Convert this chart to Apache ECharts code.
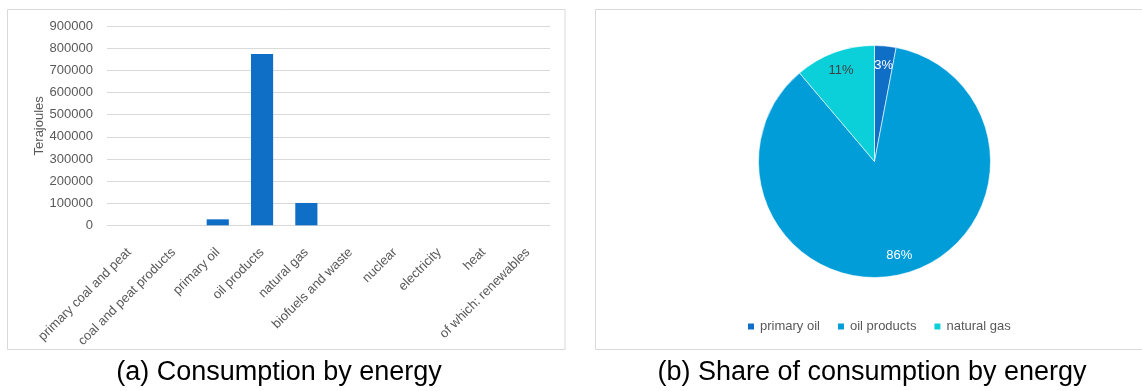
<!DOCTYPE html>
<html>
<head>
<meta charset="utf-8">
<script src="https://cdn.jsdelivr.net/npm/echarts@6/dist/echarts.min.js"></script>
<style>
  html, body { margin: 0; padding: 0; background: #ffffff; }
  #chart { width: 1142px; height: 391px; }
</style>
</head>
<body>
<div id="chart"></div>
<script>
// Final consumption by energy source, terajoules
const categories = [
  'primary coal and peat', 'coal and peat products', 'primary oil', 'oil products',
  'natural gas', 'biofuels and waste', 'nuclear', 'electricity', 'heat', 'of which: renewables'
];
const consumption = [0, 0, 27000, 775000, 101000, 0, 0, 0, 0, 0];

// Value axis ticks
const yMax = 900000;
const yStep = 100000;

// Pie uses the sources that have non-zero consumption
const pieColors = { 'primary oil': '#0F6FC6', 'oil products': '#009DD9', 'natural gas': '#0BD0D9' };
const pieLabelColors = { 'primary oil': '#ffffff', 'oil products': '#ffffff', 'natural gas': '#404040' };
const pieData = categories
  .map((name, i) => ({ name: name, value: consumption[i] }))
  .filter(d => d.value > 0);

const captions = ['(a) Consumption by energy', '(b) Share of consumption by energy'];

const FONT = 'Liberation Sans';
const TEXT_GREY = '#595959';
const GRID_GREY = '#D9D9D9';

const chart = echarts.init(document.getElementById('chart'), null, { renderer: 'canvas' });

const pieCenter = [874.5, 161.5];
const pieRadius = 116;

chart.setOption({
  backgroundColor: '#ffffff',
  animation: false,
  textStyle: { fontFamily: FONT },
  graphic: [
    { type: 'rect', shape: { x: 7.5, y: 9.5, width: 557.5, height: 340 },
      style: { fill: 'none', stroke: GRID_GREY, lineWidth: 1 }, silent: true, z: -1 },
    { type: 'rect', shape: { x: 595.5, y: 9.5, width: 560, height: 340 },
      style: { fill: 'none', stroke: GRID_GREY, lineWidth: 1 }, silent: true, z: -1 },
    { type: 'text', x: 279, y: 373, silent: true,
      style: { text: captions[0], align: 'center', verticalAlign: 'middle',
               font: '27px "Liberation Sans"', fill: '#000000' } },
    { type: 'text', x: 872, y: 373, silent: true,
      style: { text: captions[1], align: 'center', verticalAlign: 'middle',
               font: '27px "Liberation Sans"', fill: '#000000' } }
  ],
  grid: { left: 107, top: 26.3, width: 443, height: 199, containLabel: false },
  xAxis: {
    type: 'category',
    data: categories,
    axisLine: { show: true, lineStyle: { color: GRID_GREY, width: 1 } },
    axisTick: { show: false },
    axisLabel: {
      interval: 0, rotate: 45, margin: 25,
      color: TEXT_GREY, fontSize: 13, fontFamily: FONT
    }
  },
  yAxis: {
    type: 'value',
    min: 0, max: yMax, interval: yStep,
    name: 'Terajoules',
    nameLocation: 'middle',
    nameGap: 58,
    nameRotate: 90,
    nameTextStyle: { color: TEXT_GREY, fontSize: 13, fontFamily: FONT },
    axisLine: { show: false },
    axisTick: { show: false },
    axisLabel: { color: TEXT_GREY, fontSize: 13, fontFamily: FONT, margin: 14,
                 formatter: v => String(v) },
    splitLine: { show: true, lineStyle: { color: GRID_GREY, width: 1 } }
  },
  legend: {
    data: pieData.map(d => d.name),
    left: 741, top: 315,
    itemWidth: 8, itemHeight: 8, itemGap: 16,
    icon: 'rect',
    textStyle: { color: TEXT_GREY, fontSize: 13, fontFamily: FONT }
  },
  series: [
    {
      type: 'bar',
      data: consumption,
      barCategoryGap: '50%',
      itemStyle: { color: '#0F6FC6' }
    },
    {
      type: 'pie',
      center: pieCenter,
      radius: [0, pieRadius],
      startAngle: 90,
      clockwise: true,
      avoidLabelOverlap: false,
      label: { show: false },
      labelLine: { show: false },
      itemStyle: { borderColor: '#ffffff', borderWidth: 0.6 },
      data: pieData.map(d => ({ name: d.name, value: d.value, itemStyle: { color: pieColors[d.name] } }))
    },
    {
      // transparent ring carrying the percentage labels near the rim
      type: 'pie',
      center: pieCenter,
      radius: [78, 110],
      startAngle: 90,
      clockwise: true,
      silent: true,
      legendHoverLink: false,
      avoidLabelOverlap: false,
      labelLine: { show: false },
      itemStyle: { color: 'rgba(0,0,0,0)' },
      emphasis: { disabled: true },
      label: {
        show: true, position: 'inside', fontSize: 13, fontFamily: FONT,
        formatter: p => Math.round(p.percent) + '%'
      },
      data: pieData.map(d => ({
        name: d.name, value: d.value,
        itemStyle: { color: 'rgba(0,0,0,0)' },
        label: { color: pieLabelColors[d.name] }
      }))
    }
  ]
});
</script>
</body>
</html>
